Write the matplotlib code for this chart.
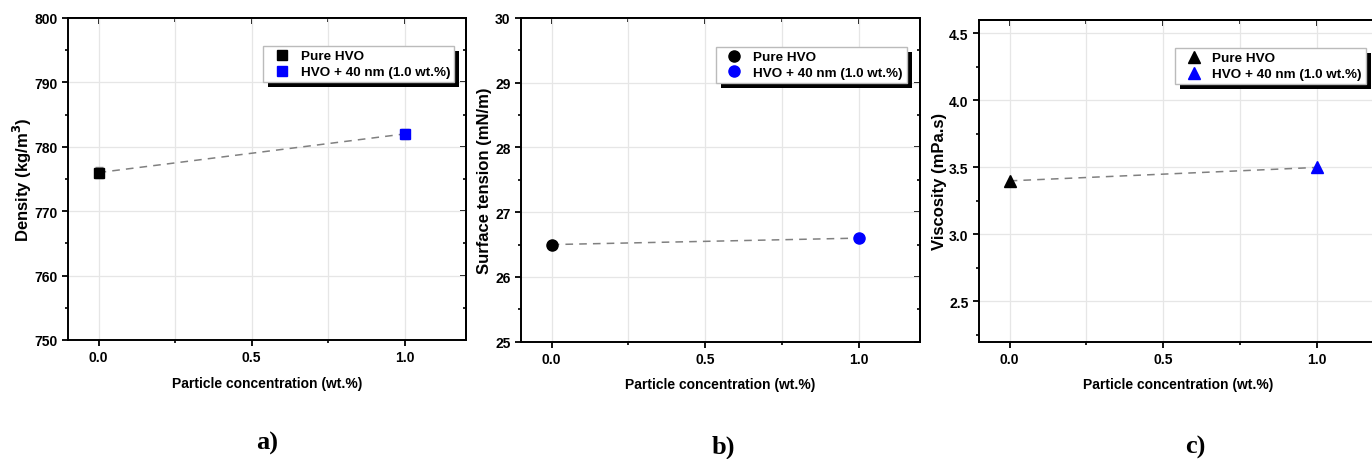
import matplotlib
matplotlib.use("Agg")
import matplotlib.pyplot as plt
from matplotlib.ticker import MultipleLocator, FuncFormatter
from matplotlib.patches import Rectangle

plt.rcParams['font.family'] = ['Liberation Sans', 'DejaVu Sans']
plt.rcParams['font.weight'] = 'bold'
plt.rcParams['axes.labelweight'] = 'bold'

# Data
conc = [0.0, 1.0]
series_labels = ["Pure HVO", "HVO + 40 nm (1.0 wt.%)"]
density = [776.0, 782.0]
density_err = [0.8, 0.8]
surface_tension = [26.5, 26.6]
viscosity = [3.4, 3.5]
panel_tags = ["a)", "b)", "c)"]

fig = plt.figure(figsize=(13.72, 4.6), dpi=100)

axes_pos = [
    [68 / 1372, 1 - 341 / 460, 398 / 1372, 322 / 460],
    [521 / 1372, 1 - 342.7 / 460, 399 / 1372, 323.7 / 460],
    [979 / 1372, 1 - 342.7 / 460, 399 / 1372, 321.7 / 460],
]

panels = [
    dict(y=density, err=density_err, ylim=(750, 800), ymaj=10, ymin=5, marker='s', ms=7,
         ylabel='Density (kg/m$^\\mathbf{3}$)', yfmt='{:.0f}', leg=(0.970, 0.913), lp=0.5),
    dict(y=surface_tension, err=None, ylim=(25, 30), ymaj=1, ymin=0.5, marker='o', ms=8,
         ylabel='Surface tension (mN/m)', yfmt='{:.0f}', leg=(0.967, 0.911), lp=2),
    dict(y=viscosity, err=None, ylim=(2.2, 4.6), ymaj=0.5, ymin=0.25, marker='^', ms=8,
         ylabel='Viscosity (mPa.s)', yfmt='{:.1f}', leg=(0.970, 0.913), lp=1.5),
]

colors = ['black', '#0000ff']
tag_x = [267, 723, 1195]
tag_y = [443, 447, 447]

legends = []
for i, (pos, p) in enumerate(zip(axes_pos, panels)):
    ax = fig.add_axes(pos)
    ax.plot(conc, p['y'], linestyle=(0, (5, 4)), color='#808080', lw=1.1, zorder=2)
    handles = []
    for j in range(2):
        if p['err'] is not None:
            ax.errorbar(conc[j], p['y'][j], yerr=p['err'][j], fmt='none',
                        ecolor='#888888', elinewidth=1, capsize=3, zorder=2.5)
        h, = ax.plot(conc[j], p['y'][j], marker=p['marker'], ms=p['ms'], color=colors[j],
                     linestyle='none', label=series_labels[j], zorder=3)
        handles.append(h)
    ax.set_xlim(-0.1, 1.2)
    ax.set_ylim(*p['ylim'])
    ax.xaxis.set_major_locator(MultipleLocator(0.5))
    ax.xaxis.set_minor_locator(MultipleLocator(0.25))
    ax.yaxis.set_major_locator(MultipleLocator(p['ymaj']))
    ax.yaxis.set_minor_locator(MultipleLocator(p['ymin']))
    ax.xaxis.set_major_formatter(FuncFormatter(lambda v, _: '{:.1f}'.format(v)))
    ax.yaxis.set_major_formatter(FuncFormatter(lambda v, _, f=p['yfmt']: f.format(v)))
    ax.grid(True, which='major', axis='y', color='#e6e6e6', lw=0.9)
    ax.grid(True, which='both', axis='x', color='#e6e6e6', lw=0.9)
    ax.set_axisbelow(True)
    for s in ax.spines.values():
        s.set_linewidth(1.4)
    ax.tick_params(which='major', direction='out', length=4.5, width=1.3, labelsize=10, pad=3)
    ax.tick_params(which='minor', direction='out', length=2.5, width=1.2)
    top = ax.secondary_xaxis('top')
    top.xaxis.set_major_locator(MultipleLocator(0.5))
    top.xaxis.set_minor_locator(MultipleLocator(0.25))
    top.tick_params(which='major', direction='in', length=4, width=1.3, labeltop=False)
    top.tick_params(which='minor', direction='in', length=3, width=1.2)
    right = ax.secondary_yaxis('right')
    right.yaxis.set_major_locator(MultipleLocator(p['ymaj']))
    right.yaxis.set_minor_locator(MultipleLocator(p['ymin']))
    right.tick_params(which='major', direction='in', length=4, width=1.3, labelright=False)
    right.tick_params(which='minor', direction='in', length=2.5, width=1.2)
    for sa in (top, right):
        for s in sa.spines.values():
            s.set_linewidth(1.4)
    ax.set_xlabel('Particle concentration (wt.%)', fontsize=10, labelpad=8)
    ax.set_ylabel(p['ylabel'], fontsize=12, labelpad=p['lp'])
    leg = ax.legend(handles, series_labels, loc='upper right', bbox_to_anchor=p['leg'],
                    borderaxespad=0, fontsize=9.7, frameon=True, fancybox=False,
                    shadow=False, edgecolor='#bbbbbb', framealpha=1,
                    handletextpad=0.35, labelspacing=0.25, borderpad=0.3,
                    handlelength=2.1)
    leg.get_frame().set_linewidth(1.0)
    leg.set_zorder(10)
    legends.append((ax, leg))
    fig.text(tag_x[i] / 1372, 1 - tag_y[i] / 460, panel_tags[i], ha='center', va='center',
             fontsize=19, fontweight='bold', family=['Liberation Serif', 'DejaVu Serif'])

# manual legend shadows (offset black box)
fig.canvas.draw()
renderer = fig.canvas.get_renderer()
off = 5  # pixels
for ax, leg in legends:
    bb = leg.get_frame().get_window_extent(renderer)
    x0, y0 = bb.x0 + off, bb.y0 - off
    r = Rectangle((x0 / fig.bbox.width, y0 / fig.bbox.height),
                  bb.width / fig.bbox.width, bb.height / fig.bbox.height,
                  transform=fig.transFigure, facecolor='black', edgecolor='none',
                  zorder=9, clip_on=False)
    ax.add_artist(r)

fig.savefig('out.png', dpi=100)
